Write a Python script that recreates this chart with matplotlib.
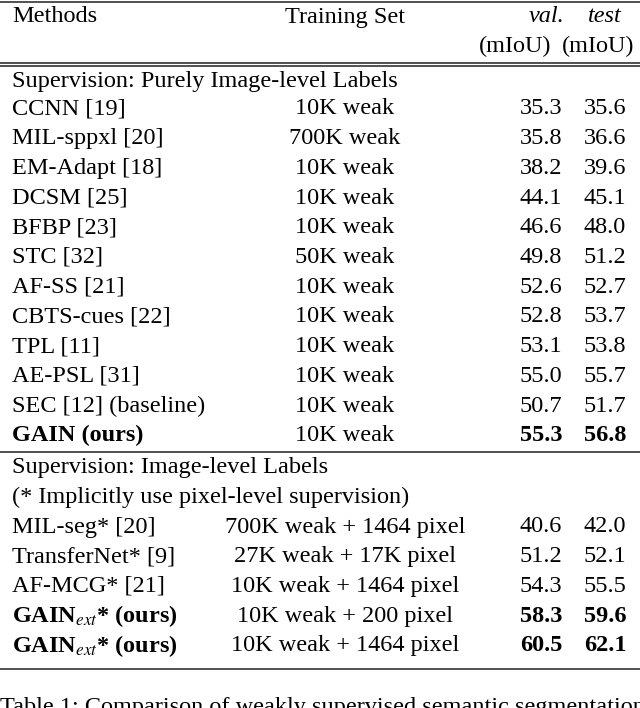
import matplotlib
matplotlib.use("Agg")
import matplotlib.pyplot as plt

plt.rcParams['font.family'] = ['Liberation Serif', 'DejaVu Serif']
plt.rcParams['mathtext.fontset'] = 'stix'

FS = 17.5

group1_methods = ["CCNN [19]", "MIL-sppxl [20]", "EM-Adapt [18]", "DCSM [25]", "BFBP [23]",
                  "STC [32]", "AF-SS [21]", "CBTS-cues [22]", "TPL [11]", "AE-PSL [31]",
                  "SEC [12] (baseline)", "GAIN (ours)"]
group1_train = ["10K weak", "700K weak", "10K weak", "10K weak", "10K weak", "50K weak",
                "10K weak", "10K weak", "10K weak", "10K weak", "10K weak", "10K weak"]
group1_val = ["35.3", "35.8", "38.2", "44.1", "46.6", "49.8", "52.6", "52.8", "53.1", "55.0", "50.7", "55.3"]
group1_test = ["35.6", "36.6", "39.6", "45.1", "48.0", "51.2", "52.7", "53.7", "53.8", "55.7", "51.7", "56.8"]
group1_bold = [False] * 11 + [True]

group2_methods = ["MIL-seg* [20]", "TransferNet* [9]", "AF-MCG* [21]",
                  r"GAIN$_{ext}$* (ours)", r"GAIN$_{ext}$* (ours)"]
group2_train = ["700K weak + 1464 pixel", "27K weak + 17K pixel", "10K weak + 1464 pixel",
                "10K weak + 200 pixel", "10K weak + 1464 pixel"]
group2_val = ["40.6", "51.2", "54.3", "58.3", "60.5"]
group2_test = ["42.0", "52.1", "55.5", "59.6", "62.1"]
group2_bold = [False, False, False, True, True]

fig = plt.figure(figsize=(6.4, 7.08), dpi=100)
ax = fig.add_axes([0, 0, 1, 1])
ax.set_xlim(0, 640)
ax.set_ylim(708, 0)
ax.axis('off')

X_M, X_T, X_V, X_E = 12, 345, 541, 605
STEP = 29.7


def row(y, m, t, v, e, bold=False):
    w = 'bold' if bold else 'normal'
    ax.text(X_M, y, m, fontsize=FS, ha='left', va='center', fontweight=w)
    ax.text(X_T, y, t, fontsize=FS, ha='center', va='center')
    ax.text(X_V, y, v, fontsize=FS, ha='center', va='center', fontweight=w)
    ax.text(X_E, y, e, fontsize=FS, ha='center', va='center', fontweight=w)


def hline(y, lw=1.2):
    ax.plot([0, 640], [y, y], color='#333333', lw=lw)


hline(1.5)
ax.text(X_M, 17, "Methods", fontsize=FS, ha='left', va='center')
ax.text(X_T, 17, "Training Set", fontsize=FS, ha='center', va='center')
ax.text(X_V + 6, 17, "val.", fontsize=FS, ha='center', va='center', style='italic')
ax.text(X_E, 17, "test", fontsize=FS, ha='center', va='center', style='italic')
ax.text(515, 46, "(mIoU)", fontsize=FS, ha='center', va='center')
ax.text(598, 46, "(mIoU)", fontsize=FS, ha='center', va='center')
hline(62.5)
hline(66)

ax.text(X_M, 82, "Supervision: Purely Image-level Labels", fontsize=FS, ha='left', va='center')
for i in range(len(group1_methods)):
    row(109 + STEP * i, group1_methods[i], group1_train[i], group1_val[i], group1_test[i], group1_bold[i])
hline(452)

ax.text(X_M, 468, "Supervision: Image-level Labels", fontsize=FS, ha='left', va='center')
ax.text(X_M, 497, "(* Implicitly use pixel-level supervision)", fontsize=FS, ha='left', va='center')
for i in range(len(group2_methods)):
    row(527 + STEP * i, group2_methods[i], group2_train[i], group2_val[i], group2_test[i], group2_bold[i])
hline(669)

ax.text(0, 697, "Table 1: Comparison of weakly supervised semantic segmentation",
        fontsize=FS, ha='left', va='top')

fig.savefig("out.png", dpi=100)
